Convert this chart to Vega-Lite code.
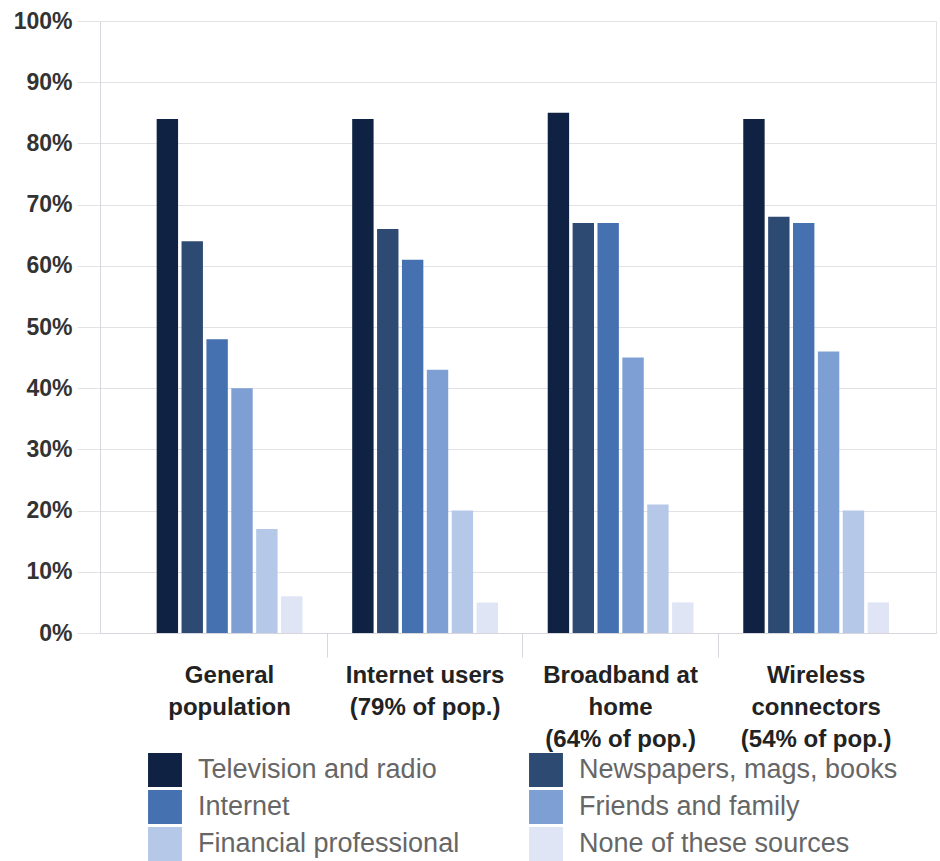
{
  "$schema": "https://vega.github.io/schema/vega-lite/v6.json",
  "autosize": "none",
  "width": 836,
  "height": 612,
  "padding": {"left": 100, "top": 21, "right": 4, "bottom": 228},
  "background": "white",
  "config": {
    "font": "Liberation Sans",
    "view": {"stroke": "#e3e0e6"}
  },
  "data": {
    "values": [
      {"segment": "General population", "source": "Television and radio", "pct": 84},
      {"segment": "General population", "source": "Newspapers, mags, books", "pct": 64},
      {"segment": "General population", "source": "Internet", "pct": 48},
      {"segment": "General population", "source": "Friends and family", "pct": 40},
      {"segment": "General population", "source": "Financial professional", "pct": 17},
      {"segment": "General population", "source": "None of these sources", "pct": 6},
      {"segment": "Internet users (79% of pop.)", "source": "Television and radio", "pct": 84},
      {"segment": "Internet users (79% of pop.)", "source": "Newspapers, mags, books", "pct": 66},
      {"segment": "Internet users (79% of pop.)", "source": "Internet", "pct": 61},
      {"segment": "Internet users (79% of pop.)", "source": "Friends and family", "pct": 43},
      {"segment": "Internet users (79% of pop.)", "source": "Financial professional", "pct": 20},
      {"segment": "Internet users (79% of pop.)", "source": "None of these sources", "pct": 5},
      {"segment": "Broadband at home (64% of pop.)", "source": "Television and radio", "pct": 85},
      {"segment": "Broadband at home (64% of pop.)", "source": "Newspapers, mags, books", "pct": 67},
      {"segment": "Broadband at home (64% of pop.)", "source": "Internet", "pct": 67},
      {"segment": "Broadband at home (64% of pop.)", "source": "Friends and family", "pct": 45},
      {"segment": "Broadband at home (64% of pop.)", "source": "Financial professional", "pct": 21},
      {"segment": "Broadband at home (64% of pop.)", "source": "None of these sources", "pct": 5},
      {"segment": "Wireless connectors (54% of pop.)", "source": "Television and radio", "pct": 84},
      {"segment": "Wireless connectors (54% of pop.)", "source": "Newspapers, mags, books", "pct": 68},
      {"segment": "Wireless connectors (54% of pop.)", "source": "Internet", "pct": 67},
      {"segment": "Wireless connectors (54% of pop.)", "source": "Friends and family", "pct": 46},
      {"segment": "Wireless connectors (54% of pop.)", "source": "Financial professional", "pct": 20},
      {"segment": "Wireless connectors (54% of pop.)", "source": "None of these sources", "pct": 5}
    ]
  },
  "mark": {"type": "bar"},
  "encoding": {
    "x": {
      "field": "segment",
      "type": "nominal",
      "sort": ["General population", "Internet users (79% of pop.)", "Broadband at home (64% of pop.)", "Wireless connectors (54% of pop.)"],
      "scale": {"paddingInner": 0, "paddingOuter": 0.1378, "align": 0.59},
      "axis": {
        "title": null,
        "ticks": true,
        "bandPosition": 0,
        "labelAngle": 0,
        "labelAlign": "center",
        "labelBaseline": "top",
        "labelFont": "Liberation Sans",
        "labelFontSize": 24,
        "labelFontWeight": "bold",
        "labelColor": "#222222",
        "labelLineHeight": 32,
        "labelPadding": 6,
        "labelLimit": 400,
        "tickSize": 24,
        "tickWidth": 1,
        "tickColor": "#d8d5dc",
        "tickOpacity": {"condition": {"test": "datum.value === 'General population'", "value": 0}, "value": 1},
        "domainColor": "#d8d5dc",
        "labelExpr": "datum.value === 'General population' ? ['General', 'population'] : datum.value === 'Internet users (79% of pop.)' ? ['Internet users', '(79% of pop.)'] : datum.value === 'Broadband at home (64% of pop.)' ? ['Broadband at', 'home', '(64% of pop.)'] : ['Wireless', 'connectors', '(54% of pop.)']"
      }
    },
    "xOffset": {
      "field": "source",
      "type": "nominal",
      "sort": ["Television and radio", "Newspapers, mags, books", "Internet", "Friends and family", "Financial professional", "None of these sources"],
      "scale": {"paddingInner": 0.14, "paddingOuter": 1.0}
    },
    "y": {
      "field": "pct",
      "type": "quantitative",
      "scale": {"domain": [0, 100], "nice": false},
      "axis": {
        "title": null,
        "values": [0, 10, 20, 30, 40, 50, 60, 70, 80, 90, 100],
        "labelExpr": "datum.value + '%'",
        "labelFont": "Liberation Sans",
        "labelFontSize": 23,
        "labelFontWeight": "bold",
        "labelColor": "#333333",
        "labelPadding": 5,
        "tickSize": 23,
        "tickColor": "#e3e0e6",
        "gridColor": "#e3e0e6",
        "domainColor": "#d8d5dc"
      }
    },
    "color": {
      "field": "source",
      "type": "nominal",
      "sort": ["Television and radio", "Newspapers, mags, books", "Internet", "Friends and family", "Financial professional", "None of these sources"],
      "scale": {
        "domain": ["Television and radio", "Newspapers, mags, books", "Internet", "Friends and family", "Financial professional", "None of these sources"],
        "range": ["#0f2243", "#2d4a73", "#4671b0", "#7d9fd3", "#b5c8e8", "#dfe5f4"]
      },
      "legend": {
        "title": null,
        "orient": "none",
        "legendX": 48,
        "legendY": 732,
        "direction": "horizontal",
        "columns": 2,
        "symbolType": "square",
        "symbolSize": 1150,
        "symbolStrokeWidth": 0,
        "labelFont": "Liberation Sans",
        "labelFontSize": 27,
        "labelColor": "#666666",
        "labelOffset": 16,
        "labelLimit": 400,
        "columnPadding": 69,
        "rowPadding": 3
      }
    }
  }
}
